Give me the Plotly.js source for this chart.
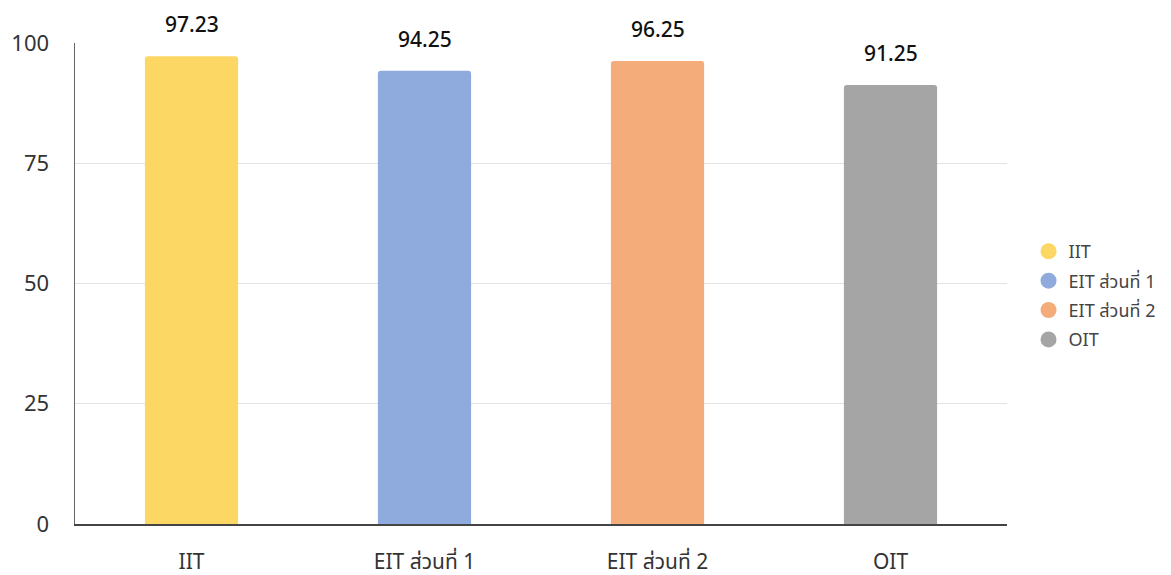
<!DOCTYPE html>
<html>
<head>
<meta charset="utf-8">
<script src="https://cdn.plot.ly/plotly-3.0.1.min.js"></script>
<style>html,body{margin:0;padding:0;background:#fff;}#chart{width:1171px;height:575px;}</style>
</head>
<body>
<div id="chart"></div>
<script>
const categories = ["IIT", "EIT ส่วนที่ 1", "EIT ส่วนที่ 2", "OIT"];
const values = [97.23, 94.25, 96.25, 91.25];
const labels = ["97.23", "94.25", "96.25", "91.25"];
const colors = ["#FDD764", "#8FAADC", "#F4AC7A", "#A5A5A5"];
const yTicks = [0, 25, 50, 75, 100];

const FONT = "'Noto Sans', 'Noto Sans Thai', 'Open Sans', sans-serif";

const traces = [{
  type: "bar",
  x: categories,
  y: values,
  marker: {color: colors, cornerradius: 3},
  width: 0.4,
  showlegend: false,
  hoverinfo: "x+y"
}];
categories.forEach((c, i) => {
  traces.push({
    type: "scatter",
    mode: "markers",
    x: [null], y: [null],
    name: c,
    legendgroup: "g" + i,
    marker: {color: colors[i], size: 16, symbol: "circle"},
    showlegend: true
  });
});

const annotations = categories.map((c, i) => ({
  x: c, y: values[i], xref: "x", yref: "y",
  text: labels[i], showarrow: false,
  yanchor: "bottom", yshift: 16,
  font: {family: FONT, size: 21, color: "#111", weight: 500}
}));

const layout = {
  width: 1171, height: 575,
  margin: {l: 75, r: 163, t: 43, b: 51},
  paper_bgcolor: "#fff", plot_bgcolor: "#fff",
  font: {family: FONT, color: "#333"},
  xaxis: {
    type: "category",
    range: [-0.5, 3.5],
    showgrid: false,
    showline: true, linecolor: "#444", linewidth: 1.5,
    ticks: "",
    ticklabelstandoff: 18,
    tickfont: {family: FONT, size: 21, color: "#333"},
    fixedrange: true
  },
  yaxis: {
    range: [0, 100],
    tickvals: yTicks,
    ticktext: yTicks.map(String),
    showgrid: true, gridcolor: "#e3e3e3", gridwidth: 1,
    showline: true, linecolor: "#666", linewidth: 1.5,
    zeroline: false,
    ticks: "",
    ticklabelstandoff: 20,
    tickfont: {family: FONT, size: 22, color: "#333"},
    fixedrange: true
  },
  showlegend: true,
  legend: {
    x: 1.022, y: 0.475, xanchor: "left", yanchor: "middle",
    font: {family: FONT, size: 18, color: "#444"},
    itemsizing: "trace",
    tracegroupgap: 3,
    bgcolor: "rgba(0,0,0,0)"
  },
  annotations: annotations
};

Plotly.newPlot("chart", traces, layout, {displayModeBar: false, staticPlot: true});
</script>
</body>
</html>
